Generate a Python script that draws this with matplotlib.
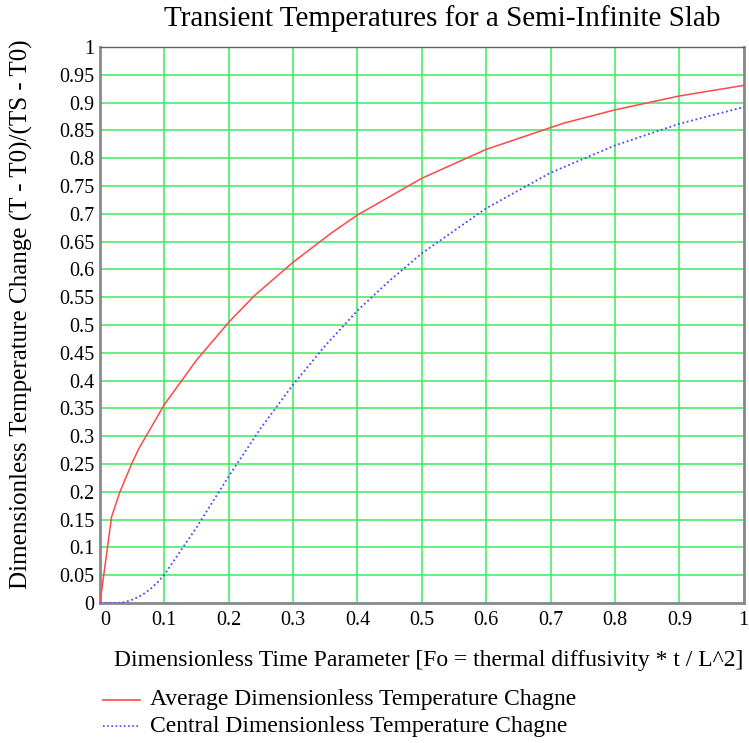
import matplotlib
matplotlib.use("Agg")
import matplotlib.pyplot as plt
from matplotlib.lines import Line2D

# Fourier number samples and dimensionless temperature change
fo_avg = [0.0, 0.018, 0.031, 0.049, 0.06, 0.1, 0.15, 0.2, 0.24, 0.3, 0.36,
          0.4, 0.5, 0.6, 0.72, 0.8, 0.9, 1.0]
theta_avg = [0.0, 0.155, 0.200, 0.250, 0.277, 0.357, 0.437, 0.505, 0.553,
             0.613, 0.666, 0.698, 0.764, 0.816, 0.863, 0.887, 0.912, 0.931]

fo_ctr = [0.0, 0.02, 0.03, 0.04, 0.05, 0.06, 0.07, 0.08, 0.09, 0.1, 0.15,
          0.2, 0.25, 0.3, 0.35, 0.4, 0.45, 0.5, 0.6, 0.7, 0.8, 0.9, 1.0]
theta_ctr = [0.0, 0.0, 0.0, 0.002, 0.006, 0.011, 0.018, 0.027, 0.038, 0.051,
             0.136, 0.228, 0.315, 0.393, 0.463, 0.526, 0.580, 0.629, 0.710,
             0.774, 0.823, 0.862, 0.892]

x_ticks = [0, 0.1, 0.2, 0.3, 0.4, 0.5, 0.6, 0.7, 0.8, 0.9, 1]
x_tick_labels = ["0", "0.1", "0.2", "0.3", "0.4", "0.5", "0.6", "0.7", "0.8", "0.9", "1"]
y_ticks = [i * 0.05 for i in range(21)]
y_tick_labels = ["0", "0.05", "0.1", "0.15", "0.2", "0.25", "0.3", "0.35", "0.4",
                 "0.45", "0.5", "0.55", "0.6", "0.65", "0.7", "0.75", "0.8",
                 "0.85", "0.9", "0.95", "1"]

title = "Transient Temperatures for a Semi-Infinite Slab"
x_label = "Dimensionless Time Parameter [Fo = thermal diffusivity * t / L^2]"
y_label = "Dimensionless Temperature Change (T - T0)/(TS - T0)"
series_names = ["Average Dimensionless Temperature Chagne",
                "Central Dimensionless Temperature Chagne"]

plt.rcParams['font.family'] = ['Liberation Serif', 'DejaVu Serif']

fig = plt.figure(figsize=(7.49, 7.43), dpi=100)
ax = fig.add_axes([0.1335, 0.1884, 0.8595, 0.7483])

red = '#ff4848'
blue = '#4848ff'
grid_green = '#3ee860'

ax.plot(fo_avg, theta_avg, color=red, lw=1.1, zorder=3)
ax.plot(fo_ctr, theta_ctr, color=blue, lw=1.3, linestyle=(0, (1, 1.5)), zorder=3)

ax.set_xlim(0, 1)
ax.set_ylim(0, 1)
ax.set_xticks(x_ticks)
ax.set_xticklabels(x_tick_labels)
ax.set_yticks(y_ticks)
ax.set_yticklabels(y_tick_labels)
ax.tick_params(length=0, labelsize=14.5)
ax.tick_params(axis='x', pad=6)
ax.tick_params(axis='y', pad=4)
ax.get_xticklabels()[0].set_ha('left')
ax.grid(True, color=grid_green, lw=1.1)
ax.set_axisbelow(True)

for side in ['left', 'bottom']:
    ax.spines[side].set_color('#8a8a8a')
    ax.spines[side].set_linewidth(2)
ax.spines['top'].set_color('#5a6a5a')
ax.spines['top'].set_linewidth(1)
ax.spines['right'].set_color('#8a8a8a')
ax.spines['right'].set_linewidth(2)

fig.text(0.591, 0.975, title, ha='center', va='center', fontsize=21)
fig.text(0.573, 0.1105, x_label, ha='center', va='center', fontsize=17)
fig.text(0.029, 0.577, y_label, ha='center', va='center', rotation=90, fontsize=18)

# legend entries drawn beneath the x-axis label
rows = [(0.0585, red, '-'), (0.0225, blue, (0, (1, 1.5)))]
for (yf, col, ls), name in zip(rows, series_names):
    fig.add_artist(Line2D([0.1375, 0.187], [yf, yf], color=col, lw=1.2,
                          linestyle=ls, transform=fig.transFigure))
    fig.text(0.2003, yf, name, ha='left', va='center', fontsize=17)

fig.savefig('out.png', dpi=100, facecolor='white')
